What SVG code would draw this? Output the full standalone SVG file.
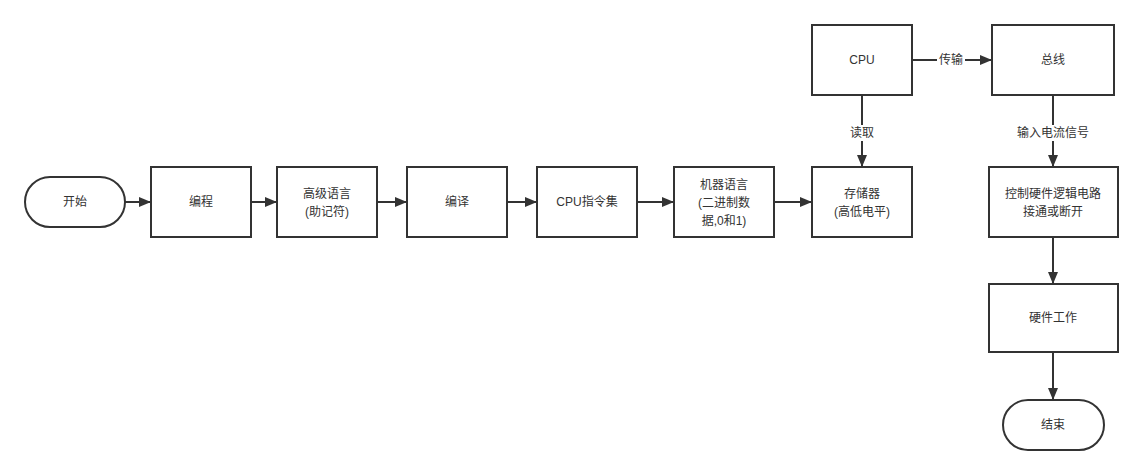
<svg xmlns="http://www.w3.org/2000/svg" width="1143" height="475" viewBox="0 0 1143 475">
<defs>
<marker id="arr" viewBox="0 0 12 10" refX="12" refY="5" markerWidth="12" markerHeight="10" markerUnits="userSpaceOnUse" orient="auto">
<path d="M0,0 L12,5 L0,10 Z" fill="#333"/>
</marker>
<style>
.n{fill:#fff;stroke:#333;stroke-width:2}
.t{font-family:"Liberation Sans","Noto Sans CJK SC",sans-serif;font-size:12px;fill:#333;text-anchor:middle;dominant-baseline:central}
.e{fill:none;stroke:#333;stroke-width:2;marker-end:url(#arr)}
.lb{fill:#fff}
</style>
</defs>
<rect width="1143" height="475" fill="#fff"/>
<g id="connectors">
<path class="e" d="M125,202 L151,202"/>
<path class="e" d="M251,202 L277,202"/>
<path class="e" d="M377,202 L407,202"/>
<path class="e" d="M507,202 L537,202"/>
<path class="e" d="M637,202 L674,202"/>
<path class="e" d="M774,202 L812,202"/>
<path class="e" d="M862,95 L862,167"/>
<path class="e" d="M912,60 L992,60"/>
<path class="e" d="M1053,95 L1053,167"/>
<path class="e" d="M1053,237 L1053,284"/>
<path class="e" d="M1053,352 L1053,400"/>
<rect class="lb" x="848" y="125" width="28" height="16"/>
<text class="t" x="862" y="133">读取</text>
<rect class="lb" x="937" y="52" width="28" height="16"/>
<text class="t" x="951" y="60">传输</text>
<rect class="lb" x="1016" y="125" width="74" height="16"/>
<text class="t" x="1053" y="133">输入电流信号</text>
</g>
<g id="start"><rect class="n" x="25" y="177" width="100" height="50" rx="25" ry="25"/><text class="t" x="75" y="202">开始</text></g>
<g id="biancheng"><rect class="n" x="151" y="167" width="100" height="70"/><text class="t" x="201" y="202">编程</text></g>
<g id="gaoji"><rect class="n" x="277" y="167" width="100" height="70"/><text class="t" x="327" y="194">高级语言</text><text class="t" x="327" y="212">(助记符)</text></g>
<g id="bianyi"><rect class="n" x="407" y="167" width="100" height="70"/><text class="t" x="457" y="202">编译</text></g>
<g id="cpuzhiling"><rect class="n" x="537" y="167" width="100" height="70"/><text class="t" x="587" y="202">CPU指令集</text></g>
<g id="jiqi"><rect class="n" x="674" y="167" width="100" height="70"/><text class="t" x="724" y="185">机器语言</text><text class="t" x="724" y="203">(二进制数</text><text class="t" x="724" y="221">据,0和1)</text></g>
<g id="cunchu"><rect class="n" x="812" y="167" width="100" height="70"/><text class="t" x="862" y="194">存储器</text><text class="t" x="862" y="212">(高低电平)</text></g>
<g id="cpu"><rect class="n" x="812" y="25" width="100" height="70"/><text class="t" x="862" y="60">CPU</text></g>
<g id="zongxian"><rect class="n" x="992" y="25" width="122" height="70"/><text class="t" x="1053" y="60">总线</text></g>
<g id="kongzhi"><rect class="n" x="989" y="167" width="129" height="70"/><text class="t" x="1053" y="194">控制硬件逻辑电路</text><text class="t" x="1053" y="212">接通或断开</text></g>
<g id="yingjian"><rect class="n" x="989" y="284" width="129" height="68"/><text class="t" x="1053" y="318">硬件工作</text></g>
<g id="end"><rect class="n" x="1003" y="400" width="101" height="50" rx="25" ry="25"/><text class="t" x="1053" y="425">结束</text></g>
</svg>
